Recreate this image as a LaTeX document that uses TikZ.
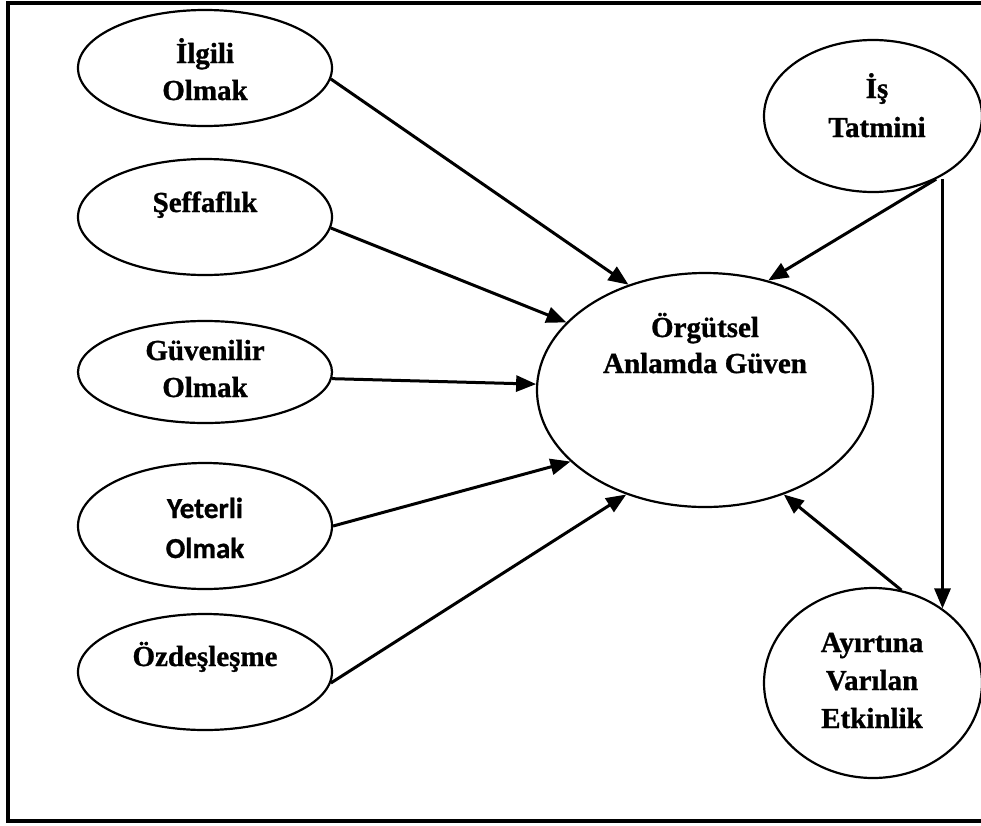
\documentclass[tikz,border=0pt]{standalone}
\usepackage{fontspec}
\setmainfont{Liberation Serif}[BoldFeatures={FakeBold=1}]
\newfontfamily\calfont{Carlito}[BoldFeatures={FakeBold=1}]
\usetikzlibrary{shapes.geometric,arrows.meta}
\begin{document}
\begin{tikzpicture}[x=1pt,y=-1pt,
  oval/.style={draw, ellipse, line width=2.2pt, inner sep=0pt},
  lbl/.style={anchor=base, inner sep=0pt, font=\fontsize{29}{37}\selectfont\bfseries},
  arr/.style={line width=3pt, -{Triangle[length=20pt,width=16pt]}},
]
\useasboundingbox (0,0) rectangle (981,825);
% frame (right side lies outside the picture)
\draw[line width=3.2pt] (985,3) -- (8,3) -- (8,821) -- (985,821);

% ellipses
\node[oval, minimum width=254pt, minimum height=116pt] (ilgili) at (205,68) {};
\node[oval, minimum width=254pt, minimum height=116pt] (seff) at (205,217) {};
\node[oval, minimum width=254pt, minimum height=102pt] (guv) at (205,372) {};
\node[oval, minimum width=254pt, minimum height=126pt] (yet) at (205,526) {};
\node[oval, minimum width=254pt, minimum height=116pt] (ozd) at (205,672) {};
\node[oval, minimum width=336pt, minimum height=234pt] (org) at (705,390) {};
\node[oval, minimum width=218pt, minimum height=152pt] (is) at (873,116) {};
\node[oval, minimum width=218pt, minimum height=190pt] (ayirt) at (873,683) {};

% labels
\node[lbl] (tilgili) at (205,63) {\begin{tabular}[t]{@{}c@{}}İlgili\\Olmak\end{tabular}};
\node[lbl] (tseff) at (205,212) {Şeffaflık};
\node[lbl] (tguv) at (205,360) {\begin{tabular}[t]{@{}c@{}}Güvenilir\\Olmak\end{tabular}};
\node[lbl, font=\fontsize{29}{40}\selectfont\calfont\bfseries] (tyet) at (205,518) {\begin{tabular}[t]{@{}c@{}}Yeterli\\Olmak\end{tabular}};
\node[lbl] (tozd) at (205,666) {Özdeşleşme};
\node[lbl, font=\fontsize{29}{36}\selectfont\bfseries] (torg) at (705,337) {\begin{tabular}[t]{@{}c@{}}Örgütsel\\Anlamda Güven\end{tabular}};
\node[lbl, font=\fontsize{29}{39}\selectfont\bfseries] (tis) at (877,98) {\begin{tabular}[t]{@{}c@{}}İş\\Tatmini\end{tabular}};
\node[lbl, font=\fontsize{29}{38}\selectfont\bfseries] (tayirt) at (872,652) {\begin{tabular}[t]{@{}c@{}}Ayırtına\\Varılan\\Etkinlik\end{tabular}};

% connectors
\draw[arr] (ilgili.-5) -- (org.126);
\draw[arr] (seff.-5) -- (org.154);
\draw[arr] (guv.-3) -- (org.178);
\draw[arr] (yet.0) -- (org.208);
\draw[arr] (ozd.-5) -- (org.233);
\draw[arr] (is.-45) -- (org.60);
\draw[arr] (ayirt.47 |- is.-45) -- (ayirt.47);
\draw[arr] (ayirt.73) -- (org.-53);
\end{tikzpicture}
\end{document}
